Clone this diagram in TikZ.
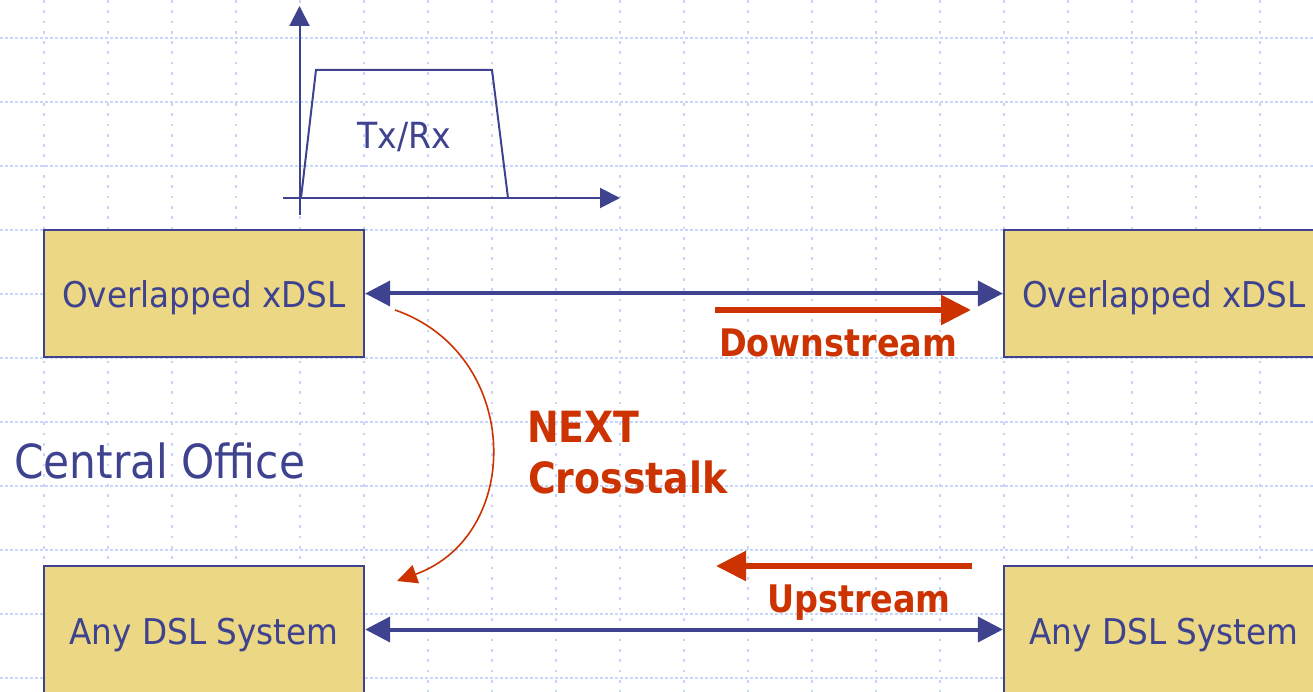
\documentclass[tikz,border=0pt]{standalone}
\usepackage{fontspec}
\newfontfamily\tahfont{DejaVu Sans}[FakeStretch=0.92]
\newfontfamily\cofont{DejaVu Sans}[FakeStretch=0.9]
\newfontfamily\tahboldfont{DejaVu Sans}[FakeStretch=0.88]
\usetikzlibrary{arrows.meta}
\definecolor{dslblue}{RGB}{62,66,143}
\definecolor{dslred}{RGB}{204,51,0}
\definecolor{dslfill}{RGB}{235,215,132}
\definecolor{gridblue}{RGB}{198,214,250}
\tikzset{
  gridv/.style={draw=gridblue, line width=2pt, dash pattern=on 2.7pt off 7.6pt},
  gridh/.style={draw=gridblue, line width=2pt, dash pattern=on 2.7pt off 2.3pt},
  dslbox/.style={draw=dslblue, line width=2.4pt, fill=dslfill, minimum width=320pt,
    minimum height=127pt, inner sep=0pt, text=dslblue,
    font=\tahfont\fontsize{35.5pt}{40pt}\selectfont, text height=29pt, text depth=0pt},
  bluelink/.style={draw=dslblue, line width=4pt,
    {Triangle[length=25pt,width=25pt]}-{Triangle[length=25pt,width=25pt]}},
  axisline/.style={draw=dslblue, line width=2pt, -{Triangle[length=20pt,width=20pt]}},
  redarrow/.style={draw=dslred, line width=5.5pt, -{Triangle[length=30pt,width=29pt]}},
  xtalk/.style={draw=dslred, line width=1.6pt, -{Triangle[length=20pt,width=19pt]}},
  bluetext/.style={inner sep=0pt, text=dslblue},
  redtext/.style={inner sep=0pt, text=dslred}
}
\begin{document}
\begin{tikzpicture}[x=1pt,y=-1pt]
\clip (0,0) rectangle (1313,692);
\fill[white] (0,0) rectangle (1313,692);
% background grid
\foreach \gx in {44,108,...,1260} \draw[gridv] (\gx,0) -- (\gx,692);
\foreach \gy in {38,102,...,678} \draw[gridh] (0,\gy) -- (1313,\gy);
% spectrum sketch
\coordinate (yb) at (299.5,215);
\coordinate (yt) at (299.5,6);
\coordinate (xl) at (283,198);
\coordinate (xr) at (620,198);
\draw[axisline] (yb) -- (yt);
\draw[axisline] (xl) -- (xr);
\draw[dslblue, line width=2pt, line join=miter] (301,198) -- (316,70) -- (492,70) -- (508,198);
\node[bluetext, anchor=base, font=\tahfont\fontsize{36pt}{40pt}\selectfont] (txrx) at (404,149) {Tx/Rx};
% boxes
\node[dslbox] (ovl) at (204,293.5) {Overlapped xDSL};
\node[dslbox] (ovr) at (1164,293.5) {Overlapped xDSL};
\node[dslbox] (anyl) at (204,629.5) {Any DSL System};
\node[dslbox] (anyr) at (1164,629.5) {Any DSL System};
% links
\draw[bluelink] (ovl.east) -- (ovr.west);
\draw[bluelink] (anyl.east) -- (anyr.west);
% downstream / upstream
\coordinate (dsA) at (715,310);
\coordinate (dsB) at (971,310);
\draw[redarrow] (dsA) -- (dsB);
\node[redtext, anchor=base west, font=\tahboldfont\bfseries\fontsize{38pt}{42pt}\selectfont] (down) at (719,356.5) {Downstream};
\coordinate (usA) at (972,566);
\coordinate (usB) at (716,566);
\draw[redarrow] (usA) -- (usB);
\node[redtext, anchor=base west, font=\tahboldfont\bfseries\fontsize{38pt}{42pt}\selectfont] (up) at (767,612) {Upstream};
% NEXT crosstalk
\coordinate (nxA) at (395,310);
\coordinate (nxB) at (397,581);
\draw[xtalk] (nxA) .. controls (522,354) and (524,535) .. (nxB);
\node[redtext, anchor=base west, font=\tahboldfont\bfseries\fontsize{43pt}{48pt}\selectfont] (next1) at (527,442) {NEXT};
\node[redtext, anchor=base west, font=\tahboldfont\bfseries\fontsize{43pt}{48pt}\selectfont] (next2) at (528,493) {Crosstalk};
% central office
\node[bluetext, anchor=base west, font=\cofont\fontsize{47pt}{52pt}\selectfont] (co) at (14,478) {Central Office};
\end{tikzpicture}
\end{document}
